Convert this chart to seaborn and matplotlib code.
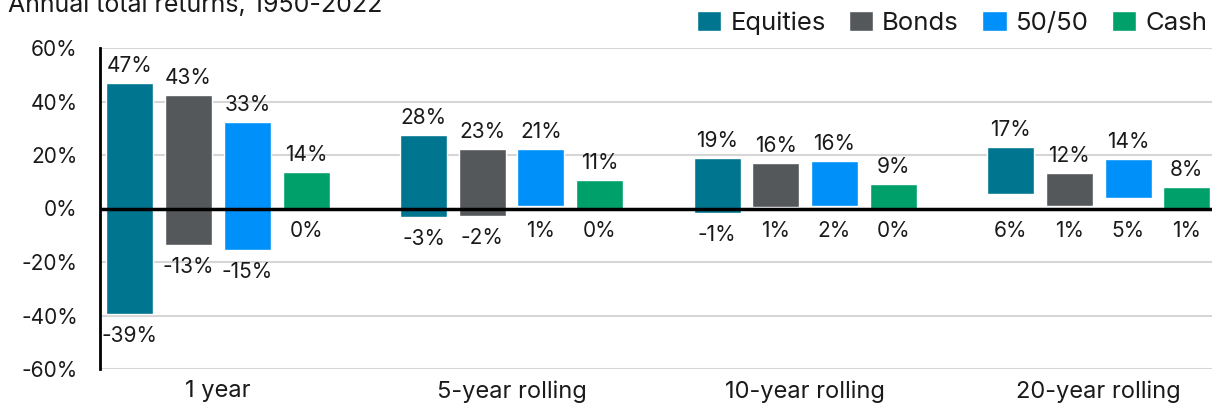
import matplotlib
matplotlib.use("Agg")
import matplotlib.pyplot as plt
import seaborn as sns
import pandas as pd

periods = ['1 year', '5-year rolling', '10-year rolling', '20-year rolling']
assets = ['Equities', 'Bonds', '50/50', 'Cash']
colors = ['#00758f', '#55585b', '#0090fa', '#00a06b']

# printed best / worst returns (%), one list per asset, in period order
label_high = {
    'Equities': [47, 28, 19, 17],
    'Bonds':    [43, 23, 16, 12],
    '50/50':    [33, 21, 16, 14],
    'Cash':     [14, 11, 9, 8],
}
label_low = {
    'Equities': [-39, -3, -1, 6],
    'Bonds':    [-13, -2, 1, 1],
    '50/50':    [-15, 1, 2, 5],
    'Cash':     [0, 0, 0, 1],
}
# bar extents as drawn in the original graphic (%)
bar_high = {
    'Equities': [47, 27.5, 18.8, 23],
    'Bonds':    [42.5, 22.3, 17, 13.3],
    '50/50':    [32.4, 22.3, 17.8, 18.5],
    'Cash':     [13.7, 10.7, 9.3, 8],
}
bar_low = {
    'Equities': [-39.4, -3, -1.6, 5.5],
    'Bonds':    [-13.5, -2.7, 0.5, 1],
    '50/50':    [-15.4, 1, 1, 4],
    'Cash':     [0, 0, 0, 0],
}

rows = []
for a in assets:
    for i, p in enumerate(periods):
        rows.append({'period': p, 'asset': a,
                     'high': bar_high[a][i], 'low': bar_low[a][i],
                     'lab_hi': label_high[a][i], 'lab_lo': label_low[a][i]})
df = pd.DataFrame(rows)

sns.set_style('white')
plt.rcParams['font.family'] = ['Inter', 'DejaVu Sans']
txt_col = '#1a1a1a'

fig = plt.figure(figsize=(12.12, 4.07), dpi=100)
ax = fig.add_axes([100/1212, 1 - 369/407, 1 - 100/1212, (369 - 48)/407])

sns.barplot(data=df, x='period', y='high', hue='asset', order=periods,
            hue_order=assets, palette=colors, saturation=1, width=0.8,
            gap=0.2, errorbar=None, ax=ax, zorder=2)

# turn bars into floating ranges low..high and label both ends
for a, cont in zip(assets, ax.containers):
    sub = df[df['asset'] == a].set_index('period')
    for bar in cont:
        xc = bar.get_x() + bar.get_width() / 2
        p = periods[int(round(xc))]
        lo, hi = sub.loc[p, 'low'], sub.loc[p, 'high']
        bar.set_y(lo)
        bar.set_height(hi - lo)
        ax.annotate(f"{sub.loc[p, 'lab_hi']}%", (xc, hi), xytext=(0, 5),
                    textcoords='offset points', ha='center', va='bottom',
                    fontsize=15, color=txt_col)
        ax.annotate(f"{sub.loc[p, 'lab_lo']}%", (xc, min(lo, 0)),
                    xytext=(0, -9), textcoords='offset points',
                    ha='center', va='top', fontsize=15, color=txt_col)

ax.set_xlim(-0.402, 3.386)
ax.set_ylim(-60, 60)
yt = list(range(-60, 61, 20))
ax.set_yticks(yt)
ax.set_yticklabels([f'{v}%' for v in yt])
ax.yaxis.grid(True, color='#d6d6d6', lw=1.5)
ax.set_axisbelow(True)
ax.axhline(0, color='black', lw=2.5, zorder=3)

for s in ['top', 'right', 'bottom']:
    ax.spines[s].set_visible(False)
ax.spines['left'].set_color('black')
ax.spines['left'].set_linewidth(2)

ax.tick_params(axis='both', length=0, colors=txt_col)
ax.tick_params(axis='y', pad=16, labelsize=15)
ax.tick_params(axis='x', pad=8, labelsize=17)
ax.set_xlabel('')
ax.set_ylabel('')

handles, labels = ax.get_legend_handles_labels()
ax.get_legend().remove()
fig.legend(handles, labels, loc='upper right', bbox_to_anchor=(1.015, 1.03),
           ncol=4, frameon=False, handlelength=0.95, handleheight=0.85,
           handletextpad=0.35, columnspacing=0.9, fontsize=18.5,
           labelcolor=txt_col)

fig.text(8/1212, 1 - 12/407, 'Annual total returns, 1950-2022',
         va='baseline', ha='left', fontsize=18, color=txt_col)

fig.savefig('out.png', dpi=100)
